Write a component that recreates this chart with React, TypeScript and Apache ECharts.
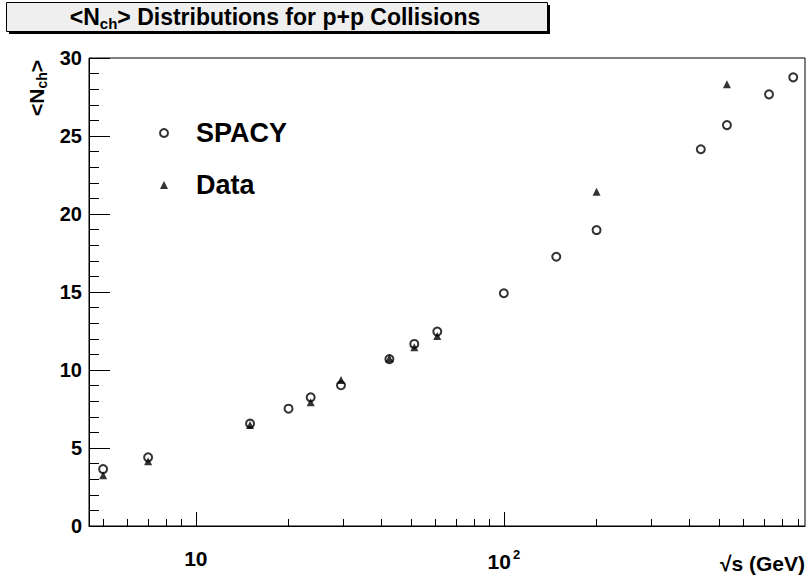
import React, { useEffect, useRef } from "react";
import * as echarts from "echarts";

// sqrt(s) in GeV and mean charged multiplicity
const spacyEnergy = [5, 7, 15, 20, 23.6, 29.6, 42.5, 51.2, 60.8, 100, 148, 200, 436, 530, 726, 870];
const spacyNch = [3.65, 4.4, 6.56, 7.52, 8.25, 9.02, 10.7, 11.67, 12.46, 14.92, 17.26, 18.97, 24.15, 25.7, 27.67, 28.76];
const dataEnergy = [5, 7, 15, 23.6, 29.6, 42.5, 51.2, 60.8, 200, 530];
const dataNch = [3.25, 4.15, 6.47, 7.93, 9.36, 10.75, 11.46, 12.18, 21.43, 28.31];

const majorTicksX = [10, 100];
const minorTicksX = [5, 6, 7, 8, 9, 20, 30, 40, 50, 60, 70, 80, 90, 200, 300, 400, 500, 600, 700, 800, 900];

const FONT = "'Liberation Sans', Arial, Helvetica, sans-serif";

export default function App() {
  const ref = useRef<HTMLDivElement>(null);

  useEffect(() => {
    if (!ref.current) return;
    const chart = echarts.init(ref.current, null, { renderer: "svg" });

    const pairs = (xs: number[], ys: number[]) => xs.map((x, i) => [x, ys[i]]);

    const baseX = {
      type: "log" as const,
      logBase: 10,
      min: 4.5,
      max: 950,
      position: "bottom" as const,
      splitLine: { show: false },
      minorTick: { show: false },
      minorSplitLine: { show: false },
    };

    chart.setOption({
      animation: false,
      backgroundColor: "#ffffff",
      grid: {
        left: 89,
        right: 4,
        top: 58,
        bottom: 54,
        show: true,
        borderColor: "#000",
        borderWidth: 1,
        backgroundColor: "transparent",
      },
      legend: {
        orient: "vertical",
        left: 154,
        top: 112,
        itemWidth: 8,
        itemHeight: 8,
        itemGap: 20,
        data: [
          { name: "SPACY", itemStyle: { borderWidth: 1 } },
          { name: "Data" },
        ],
        textStyle: {
          fontFamily: FONT,
          fontWeight: "bold",
          fontSize: 27,
          color: "#000",
          padding: [0, 0, 0, 23],
          lineHeight: 32,
        },
      },
      xAxis: [
        {
          ...baseX,
          axisLine: { show: true, lineStyle: { color: "#000", width: 1 } },
          axisTick: {
            show: true,
            inside: true,
            length: 14,
            customValues: majorTicksX,
            lineStyle: { color: "#000", width: 1 },
          },
          axisLabel: {
            show: true,
            customValues: majorTicksX,
            margin: 22,
            color: "#000",
            fontFamily: FONT,
            fontWeight: "bold",
            fontSize: 21,
            formatter: (v: number) => {
              const e = Math.round(Math.log10(v));
              return e === 1 ? "{b|10}" : "{b|10}{sup|" + e + "}";
            },
            rich: {
              b: {
                fontFamily: FONT,
                fontWeight: "bold",
                fontSize: 21,
                color: "#000",
              },
              sup: {
                fontFamily: FONT,
                fontWeight: "bold",
                fontSize: 13,
                color: "#000",
                padding: [0, 0, 14, 2],
              },
            },
          },
        },
        {
          ...baseX,
          axisLine: { show: false },
          axisTick: {
            show: true,
            inside: true,
            length: 7,
            customValues: minorTicksX,
            lineStyle: { color: "#000", width: 1 },
          },
          axisLabel: { show: false },
        },
      ],
      yAxis: {
        type: "value",
        min: 0,
        max: 30,
        interval: 5,
        splitLine: { show: false },
        axisLine: { show: true, lineStyle: { color: "#000", width: 1 } },
        axisTick: { show: true, inside: true, length: 21, lineStyle: { color: "#000", width: 1 } },
        minorTick: { show: true, splitNumber: 5, length: 10, lineStyle: { color: "#000", width: 1 } },
        axisLabel: {
          color: "#000",
          fontFamily: FONT,
          fontWeight: "bold",
          fontSize: 20,
          margin: 7,
        },
      },
      series: [
        {
          name: "SPACY",
          type: "scatter",
          xAxisIndex: 0,
          symbol: "emptyCircle",
          symbolSize: 8,
          itemStyle: { color: "#000", borderColor: "#000", borderWidth: 1 },
          data: pairs(spacyEnergy, spacyNch),
          z: 2,
        },
        {
          name: "Data",
          type: "scatter",
          xAxisIndex: 0,
          symbol: "triangle",
          symbolSize: 8,
          itemStyle: { color: "#000" },
          data: pairs(dataEnergy, dataNch),
          z: 3,
        },
      ],
      graphic: [
        // title box with drop shadow
        { type: "rect", shape: { x: 9, y: 5, width: 541, height: 29 }, style: { fill: "#000" }, z: 10 },
        {
          type: "rect",
          shape: { x: 6.5, y: 2.5, width: 541, height: 29 },
          style: { fill: "#efefef", stroke: "#000", lineWidth: 1 },
          z: 11,
        },
        {
          type: "text",
          x: 275,
          y: 17,
          z: 12,
          style: {
            text: "<N{sub|ch}> Distributions for p+p Collisions",
            align: "center",
            verticalAlign: "middle",
            fill: "#000",
            fontFamily: FONT,
            fontWeight: "bold",
            fontSize: 23,
            rich: {
              sub: { fontFamily: FONT, fontWeight: "bold", fontSize: 15, fill: "#000", padding: [12, 0, 0, 0] },
            },
          },
        },
        // y axis title, rotated
        {
          type: "text",
          x: 36,
          y: 88,
          rotation: Math.PI / 2,
          z: 12,
          style: {
            text: "<N{sub|ch}>",
            align: "center",
            verticalAlign: "middle",
            fill: "#000",
            fontFamily: FONT,
            fontWeight: "bold",
            fontSize: 21,
            rich: {
              sub: { fontFamily: FONT, fontWeight: "bold", fontSize: 14, fill: "#000", padding: [11, 0, 0, 0] },
            },
          },
        },
        // x axis title
        {
          type: "text",
          x: 805,
          y: 563,
          z: 12,
          style: {
            text: "√s (GeV)",
            align: "right",
            verticalAlign: "middle",
            fill: "#000",
            fontFamily: FONT,
            fontWeight: "bold",
            fontSize: 21,
          },
        },
      ],
    });

    return () => chart.dispose();
  }, []);

  return <div ref={ref} style={{ width: 809, height: 580, position: "absolute", left: 0, top: 0 }} />;
}
